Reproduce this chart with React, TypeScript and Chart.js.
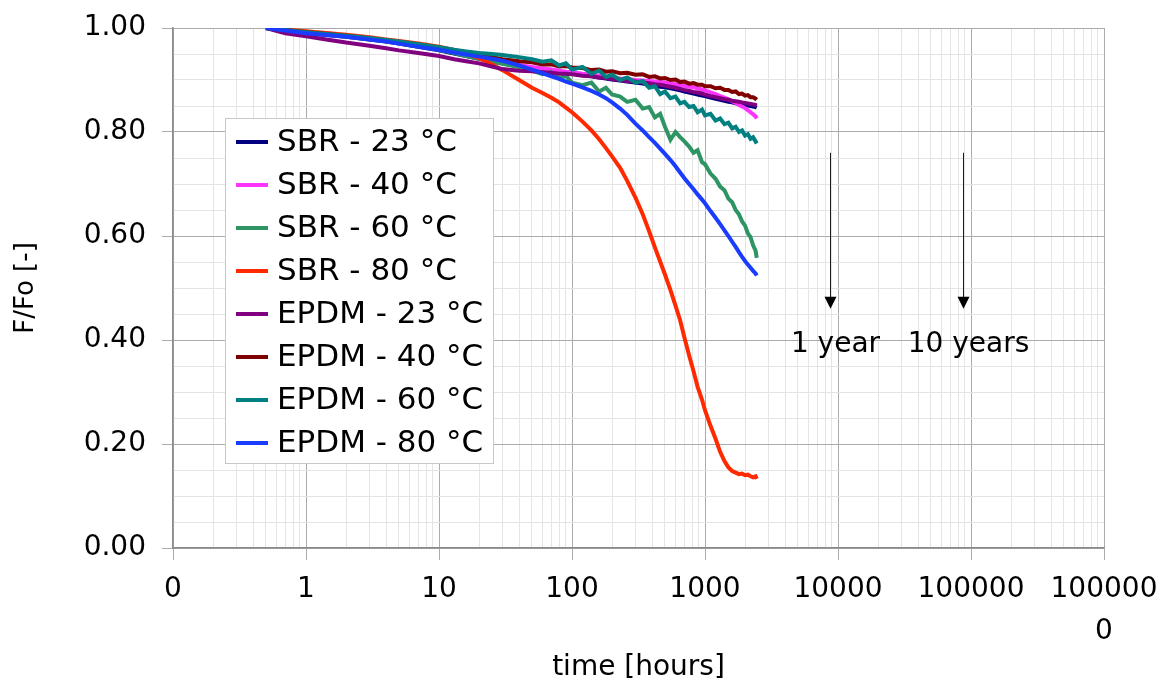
import React, { useEffect, useRef } from 'react';
import { Chart, registerables } from 'chart.js';

Chart.register(...registerables);

// ---------- data ----------
const TIMES = [
  0.5, 0.7, 1, 1.5, 2, 3, 4, 5, 7, 10,
  13, 16, 20, 25, 30, 40, 50, 60, 70, 80,
  90, 100, 120, 140, 160, 180, 200, 230, 260, 300,
  340, 380, 420, 460, 500, 550, 600, 650, 700, 760,
  820, 880, 950, 1000, 1100, 1200, 1300, 1400, 1500, 1600,
  1700, 1800, 1900, 2000, 2100, 2200, 2300, 2400, 2450,
];

const SERIES_LABELS = [
  'SBR - 23 °C', 'SBR - 40 °C', 'SBR - 60 °C', 'SBR - 80 °C',
  'EPDM - 23 °C', 'EPDM - 40 °C', 'EPDM - 60 °C', 'EPDM - 80 °C',
];

const SERIES_COLORS = [
  '#000080', '#ff33ff', '#2e9463', '#ff2a00',
  '#800080', '#800000', '#008080', '#1a3cff',
];

const SBR_23 = [
  1.0, 0.995, 0.99, 0.986, 0.983, 0.978, 0.974, 0.97, 0.964, 0.957,
  0.951, 0.946, 0.941, 0.936, 0.932, 0.926, 0.922, 0.919, 0.917, 0.915,
  0.914, 0.912, 0.909, 0.907, 0.905, 0.903, 0.901, 0.899, 0.897, 0.895,
  0.893, 0.891, 0.889, 0.887, 0.886, 0.884, 0.882, 0.88, 0.878, 0.876,
  0.874, 0.872, 0.87, 0.869, 0.866, 0.864, 0.862, 0.86, 0.858, 0.857,
  0.855, 0.854, 0.853, 0.852, 0.851, 0.85, 0.849, 0.848, 0.847,
];

const SBR_40 = [
  1.0, 0.996, 0.991, 0.987, 0.984, 0.979, 0.975, 0.971, 0.966, 0.959,
  0.953, 0.948, 0.943, 0.938, 0.934, 0.929, 0.925, 0.922, 0.92, 0.918,
  0.916, 0.915, 0.912, 0.91, 0.908, 0.906, 0.905, 0.903, 0.902, 0.9,
  0.899, 0.898, 0.897, 0.896, 0.895, 0.893, 0.892, 0.89, 0.889, 0.887,
  0.886, 0.884, 0.882, 0.88, 0.876, 0.873, 0.869, 0.866, 0.863, 0.859,
  0.856, 0.852, 0.849, 0.846, 0.842, 0.838, 0.834, 0.83, 0.826,
];

const SBR_60 = [
  1.0, 0.996, 0.991, 0.987, 0.984, 0.979, 0.975, 0.971, 0.965, 0.958,
  0.952, 0.946, 0.941, 0.935, 0.931, 0.925, 0.918, 0.911, 0.915, 0.903,
  0.908, 0.895, 0.89, 0.895, 0.878, 0.885, 0.872, 0.868, 0.858, 0.862,
  0.845, 0.848, 0.828, 0.835, 0.81, 0.785, 0.8, 0.79, 0.782, 0.772,
  0.76, 0.765, 0.742, 0.738, 0.72, 0.71, 0.695, 0.688, 0.672, 0.665,
  0.65, 0.642, 0.628, 0.62, 0.605, 0.598, 0.582, 0.572, 0.558,
];

const SBR_80 = [
  1.0, 0.997, 0.994, 0.99, 0.987, 0.982, 0.978, 0.975, 0.97, 0.964,
  0.958, 0.951, 0.942, 0.93, 0.919, 0.9, 0.885, 0.875, 0.866, 0.857,
  0.847, 0.838, 0.82, 0.803, 0.786, 0.769, 0.753, 0.731, 0.706, 0.674,
  0.642, 0.609, 0.578, 0.551, 0.526, 0.496, 0.466, 0.438, 0.405, 0.37,
  0.34, 0.31, 0.285, 0.265, 0.235, 0.21, 0.185, 0.167, 0.155, 0.148,
  0.145, 0.142, 0.143, 0.14, 0.141, 0.138, 0.136, 0.138, 0.133,
];

const EPDM_23 = [
  1.0, 0.99, 0.984, 0.977, 0.972, 0.966, 0.961, 0.957, 0.952, 0.946,
  0.94, 0.936, 0.932, 0.926, 0.921, 0.918, 0.917, 0.915, 0.914, 0.912,
  0.912, 0.911, 0.908, 0.907, 0.905, 0.904, 0.902, 0.9, 0.898, 0.897,
  0.895, 0.894, 0.892, 0.891, 0.889, 0.887, 0.885, 0.883, 0.881, 0.879,
  0.877, 0.876, 0.874, 0.872, 0.869, 0.867, 0.865, 0.863, 0.862, 0.86,
  0.859, 0.858, 0.857, 0.856, 0.855, 0.854, 0.853, 0.852, 0.851,
];

const EPDM_40 = [
  1.0, 0.996, 0.992, 0.988, 0.985, 0.98, 0.976, 0.972, 0.967, 0.961,
  0.956, 0.952, 0.948, 0.944, 0.94, 0.936, 0.934, 0.93, 0.93, 0.926,
  0.927, 0.924, 0.923, 0.919, 0.92, 0.916, 0.917, 0.913, 0.914, 0.91,
  0.911, 0.906, 0.907, 0.903, 0.904, 0.9, 0.901, 0.896, 0.897, 0.893,
  0.894, 0.891, 0.891, 0.888, 0.888, 0.884, 0.885, 0.881, 0.881, 0.877,
  0.878, 0.873, 0.874, 0.87, 0.871, 0.867, 0.867, 0.864, 0.862,
];

const EPDM_60 = [
  1.0, 0.996, 0.992, 0.988, 0.985, 0.981, 0.977, 0.974, 0.969, 0.963,
  0.958, 0.955, 0.952, 0.95, 0.948, 0.944, 0.94, 0.935, 0.938, 0.928,
  0.932, 0.92, 0.925, 0.912, 0.918, 0.906, 0.91, 0.9, 0.905, 0.895,
  0.898, 0.885, 0.888, 0.873, 0.878, 0.865, 0.868, 0.855, 0.858, 0.848,
  0.85, 0.838, 0.843, 0.832, 0.835, 0.822, 0.826, 0.815, 0.818, 0.807,
  0.81, 0.8, 0.803, 0.793, 0.796, 0.787, 0.79, 0.782, 0.778,
];

const EPDM_80 = [
  1.0, 0.995, 0.99, 0.986, 0.983, 0.978, 0.974, 0.97, 0.964, 0.958,
  0.953, 0.949, 0.945, 0.941, 0.937, 0.928, 0.92, 0.913, 0.907, 0.902,
  0.897, 0.893, 0.886, 0.879, 0.872, 0.865, 0.857, 0.845, 0.833, 0.816,
  0.803, 0.79, 0.779, 0.768, 0.758, 0.746, 0.734, 0.722, 0.711, 0.7,
  0.69, 0.68, 0.67, 0.663, 0.648, 0.635, 0.623, 0.611, 0.6, 0.589,
  0.579, 0.569, 0.56, 0.552, 0.545, 0.539, 0.533, 0.528, 0.524,
];

const SERIES = [SBR_23, SBR_40, SBR_60, SBR_80, EPDM_23, EPDM_40, EPDM_60, EPDM_80];

const X_MIN = 0.1;
const X_MAX = 1000000;
const X_TICK_LABELS: (string | string[])[] = ['0', '1', '10', '100', '1000', '10000', '100000', ['100000', '0']];
const Y_MIN = 0;
const Y_MAX = 1;
const Y_STEP = 0.05;
const Y_LABEL_EVERY = 0.2;

const ARROW_TIMES = [8760, 87600];
const ARROW_LABELS = ['1 year', '10 years'];
const ARROW_FROM = 0.76;
const ARROW_TO = 0.46;
const ARROW_TEXT_Y = 0.377;

const X_TITLE = 'time [hours]';
const Y_TITLE = 'F/Fo [-]';

// ---------- styling ----------
const FONT = "'DejaVu Sans', 'Liberation Sans', sans-serif";
const MAJOR_GRID = '#ababab';
const MINOR_GRID = '#e4e4e4';
const AXIS_COLOR = '#8a8a8a';

function isPow10(v: number) {
  const lg = Math.log10(v);
  return Math.abs(lg - Math.round(lg)) < 1e-9;
}
function isYMajor(v: number) {
  const r = Math.round(v * 100);
  return r % Math.round(Y_LABEL_EVERY * 100) === 0;
}

const arrowPlugin = {
  id: 'yearArrows',
  afterDatasetsDraw(chart: any) {
    const { ctx, scales } = chart;
    const xs = scales.x;
    const ys = scales.y;
    ctx.save();
    ARROW_TIMES.forEach((t, i) => {
      const x = Math.round(xs.getPixelForValue(t)) + 0.5;
      const y0 = ys.getPixelForValue(ARROW_FROM);
      const y1 = ys.getPixelForValue(ARROW_TO);
      ctx.strokeStyle = '#1a1a1a';
      ctx.lineWidth = 1;
      ctx.beginPath();
      ctx.moveTo(x, y0);
      ctx.lineTo(x, y1 - 10);
      ctx.stroke();
      ctx.fillStyle = '#000';
      ctx.beginPath();
      ctx.moveTo(x - 6, y1 - 12);
      ctx.lineTo(x + 6, y1 - 12);
      ctx.lineTo(x, y1);
      ctx.closePath();
      ctx.fill();
      ctx.font = `28px ${FONT}`;
      ctx.textAlign = 'center';
      ctx.textBaseline = 'alphabetic';
      ctx.fillText(ARROW_LABELS[i], x + 5, ys.getPixelForValue(ARROW_TEXT_Y));
    });
    ctx.restore();
  },
};

const legendPlugin = {
  id: 'insideLegend',
  afterDraw(chart: any) {
    const { ctx } = chart;
    const ds = chart.data.datasets;
    const left = 225;
    const top = 118;
    const width = 268;
    const height = 345;
    const rowStart = 142;
    const rowGap = 43;
    ctx.save();
    ctx.fillStyle = '#ffffff';
    ctx.fillRect(left, top, width, height);
    ctx.strokeStyle = '#c8c8c8';
    ctx.lineWidth = 1;
    ctx.strokeRect(left + 0.5, top + 0.5, width, height);
    ctx.font = `31px ${FONT}`;
    ctx.textAlign = 'left';
    ctx.textBaseline = 'middle';
    ds.forEach((d: any, i: number) => {
      const y = rowStart + i * rowGap;
      ctx.strokeStyle = d.borderColor;
      ctx.lineWidth = 4;
      ctx.beginPath();
      ctx.moveTo(236, y);
      ctx.lineTo(268, y);
      ctx.stroke();
      ctx.fillStyle = '#000';
      ctx.fillText(d.label, 277, y + 1);
    });
    ctx.restore();
  },
};

export default function App() {
  const ref = useRef<HTMLCanvasElement>(null);

  useEffect(() => {
    document.body.style.margin = '0';
    const canvas = ref.current;
    if (!canvas) return;

    const datasets = SERIES.map((s, i) => ({
      label: SERIES_LABELS[i],
      data: TIMES.map((t, j) => ({ x: t, y: s[j] })),
      borderColor: SERIES_COLORS[i],
      backgroundColor: SERIES_COLORS[i],
      borderWidth: 4,
      pointRadius: 0,
      fill: false,
      tension: 0,
      order: SERIES.length - i,
    }));

    const chart = new Chart(canvas, {
      type: 'line',
      data: { datasets },
      options: {
        responsive: false,
        animation: false,
        devicePixelRatio: 1,
        layout: { padding: { top: 28, right: 63, left: 0, bottom: 0 } },
        plugins: {
          legend: { display: false },
          tooltip: { enabled: false },
        },
        scales: {
          x: {
            type: 'logarithmic',
            min: X_MIN,
            max: X_MAX,
            afterBuildTicks: (scale: any) => {
              const ticks: any[] = [];
              for (let d = X_MIN; d < X_MAX * 1.0001; d *= 10) {
                ticks.push({ value: d, major: true });
                if (d < X_MAX * 0.999) {
                  for (let m = 2; m <= 9; m++) ticks.push({ value: d * m, major: false });
                }
              }
              scale.ticks = ticks;
            },
            afterFit: (scale: any) => {
              scale.height = 143;
            },
            ticks: {
              autoSkip: false,
              maxRotation: 0,
              minRotation: 0,
              padding: 9,
              color: '#000',
              font: { family: FONT, size: 28, lineHeight: 1.5 },
              callback: (value: any) => {
                const v = Number(value);
                if (!isPow10(v)) return '';
                const idx = Math.round(Math.log10(v / X_MIN));
                return X_TICK_LABELS[idx] ?? '';
              },
            },
            grid: {
              color: (c: any) => (c.tick && isPow10(c.tick.value) ? MAJOR_GRID : MINOR_GRID),
              tickColor: (c: any) => (c.tick && isPow10(c.tick.value) ? MAJOR_GRID : 'rgba(0,0,0,0)'),
              tickLength: 12,
              lineWidth: 1,
            },
            border: { display: true, color: AXIS_COLOR, width: 1.5 },
            title: {
              display: true,
              text: X_TITLE,
              color: '#000',
              font: { family: FONT, size: 28 },
              padding: { top: 0, bottom: 6 },
            },
          },
          y: {
            type: 'linear',
            min: Y_MIN,
            max: Y_MAX,
            afterFit: (scale: any) => {
              scale.width = 173;
            },
            ticks: {
              stepSize: Y_STEP,
              autoSkip: false,
              padding: 16,
              color: '#000',
              font: { family: FONT, size: 28, lineHeight: 0.4 },
              callback: (value: any) => {
                const v = Number(value);
                return isYMajor(v) ? (Math.round(v * 100) / 100).toFixed(2) : '';
              },
            },
            grid: {
              color: (c: any) => (c.tick && isYMajor(c.tick.value) ? MAJOR_GRID : MINOR_GRID),
              tickColor: (c: any) => (c.tick && isYMajor(c.tick.value) ? MAJOR_GRID : 'rgba(0,0,0,0)'),
              tickLength: 11,
              lineWidth: 1,
            },
            border: { display: true, color: AXIS_COLOR, width: 1.5 },
            title: {
              display: true,
              text: Y_TITLE,
              color: '#000',
              font: { family: FONT, size: 26 },
              padding: { top: 11, bottom: 0 },
            },
          },
        },
      },
      plugins: [arrowPlugin, legendPlugin],
    } as any);

    return () => chart.destroy();
  }, []);

  return (
    <div style={{ width: 1167, height: 691, background: '#ffffff' }}>
      <canvas ref={ref} width={1167} height={691} style={{ display: 'block' }} />
    </div>
  );
}
